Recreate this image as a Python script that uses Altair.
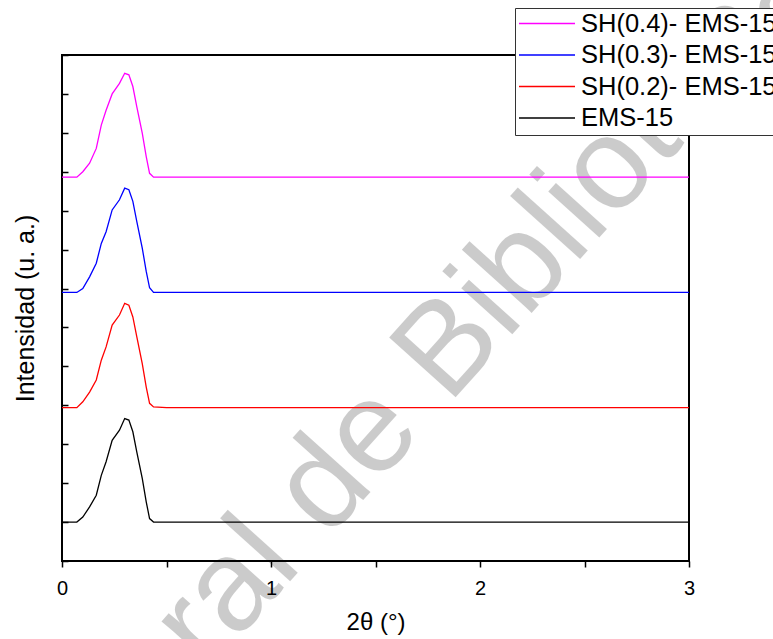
import altair as alt
import pandas as pd

# ---- data ----
x_vals = [0, 0.071, 0.0995, 0.132, 0.164, 0.188, 0.211, 0.240, 0.275, 0.300,
          0.320, 0.339, 0.358, 0.384, 0.403, 0.419, 0.438, 0.5, 1.0, 1.5, 2.0, 2.5, 3.0]
y_sh04 = [9.86, 9.86, 10.00, 10.22, 10.60, 11.20, 11.58, 12.00, 12.27, 12.53,
          12.49, 12.19, 11.67, 10.99, 10.39, 9.96, 9.86, 9.86, 9.86, 9.86, 9.86, 9.86, 9.86]
y_sh03 = [6.90, 6.90, 7.00, 7.30, 7.65, 8.16, 8.46, 9.02, 9.28, 9.58,
          9.54, 9.24, 8.72, 8.04, 7.44, 7.02, 6.90, 6.90, 6.90, 6.90, 6.90, 6.90, 6.90]
y_sh02 = [3.94, 3.94, 4.09, 4.34, 4.65, 5.16, 5.50, 6.06, 6.32, 6.62,
          6.57, 6.27, 5.76, 5.07, 4.47, 4.05, 3.96, 3.94, 3.94, 3.94, 3.94, 3.94, 3.94]
y_ems15 = [1.00, 1.00, 1.13, 1.39, 1.69, 2.20, 2.55, 3.10, 3.36, 3.66,
           3.62, 3.32, 2.80, 2.12, 1.52, 1.09, 1.00, 1.00, 1.00, 1.00, 1.00, 1.00, 1.00]

series_names = ["SH(0.4)- EMS-15", "SH(0.3)- EMS-15", "SH(0.2)- EMS-15", "EMS-15"]
series_colors = ["#ff00ff", "#0000ff", "#ff0000", "#000000"]
x_ticks = [0, 0.5, 1, 1.5, 2, 2.5, 3]
y_ticks = list(range(0, 14))
watermark_text = "General de Bibliotecas"

rows = []
for name, ys in zip(series_names, [y_sh04, y_sh03, y_sh02, y_ems15]):
    for i, (xv, yv) in enumerate(zip(x_vals, ys)):
        rows.append({"series": name, "x": xv, "y": yv, "order": i})
df = pd.DataFrame(rows)

W, H = 627, 506
FONT = "Liberation Sans"

x_scale = alt.Scale(domain=[0, 3], nice=False, zero=False)
y_scale = alt.Scale(domain=[0, 13], nice=False, zero=False)

x_axis = alt.Axis(
    title="2θ  (°)", values=x_ticks,
    labelExpr="datum.value % 1 === 0 ? format(datum.value, 'd') : ''",
    tickSize=6, tickWidth=1.5, tickColor="black",
    labelFontSize=20, labelFont=FONT, labelColor="black", labelPadding=11,
    labelFlush=False, titleFontSize=24, titleFont=FONT, titleFontWeight="normal",
    titleColor="black", titlePadding=12, domain=False, grid=False,
)

watermark = alt.Chart(pd.DataFrame({"t": [watermark_text]})).mark_text(
    font=FONT, fontSize=130, color="black", opacity=0.2,
    align="left", baseline="alphabetic", angle=312,
).encode(text="t:N", x=alt.value(-68), y=alt.value(855))

lines = alt.Chart(df).mark_line(strokeWidth=1.3).encode(
    x=alt.X("x:Q", scale=x_scale, axis=x_axis),
    y=alt.Y("y:Q", scale=y_scale, axis=alt.Axis(
        title="Intensidad (u. a.)", labels=False, ticks=False, domain=False, grid=False,
        titleFontSize=25, titleFont=FONT, titleFontWeight="normal", titleColor="black",
        titlePadding=24)),
    color=alt.Color("series:N", scale=alt.Scale(domain=series_names, range=series_colors),
                    legend=alt.Legend(
                        title=None, orient="none", legendX=453, legendY=-47,
                        symbolType="stroke", symbolSize=3136, symbolStrokeWidth=1.5,
                        clipHeight=25, labelFontSize=25.5, labelFont=FONT, labelColor="black",
                        labelOffset=5, fillColor="white", strokeColor="#333333",
                        padding=3, rowPadding=5.5, labelLimit=400, zindex=0)),
    order=alt.Order("order:Q"),
)

tick_layer = alt.Chart(df).mark_line(opacity=0).encode(
    x=alt.X("x:Q", scale=x_scale, axis=x_axis),
    y=alt.Y("y:Q", scale=y_scale, axis=alt.Axis(
        orient="right", offset=-W, values=y_ticks, labels=False, ticks=True,
        tickSize=6, tickWidth=1.5, tickColor="black", domain=False, grid=False, title="")),
    detail="series:N",
    order=alt.Order("order:Q"),
)

chart = alt.layer(watermark, lines, tick_layer).resolve_scale(y="independent").properties(
    width=W, height=H,
    autosize=alt.AutoSizeParams(type="none"),
    padding={"left": 62, "top": 55, "right": 84, "bottom": 78},
).configure_view(stroke="black", strokeWidth=2)

chart.save("out.html", embed_options={"renderer": "svg", "actions": False})
